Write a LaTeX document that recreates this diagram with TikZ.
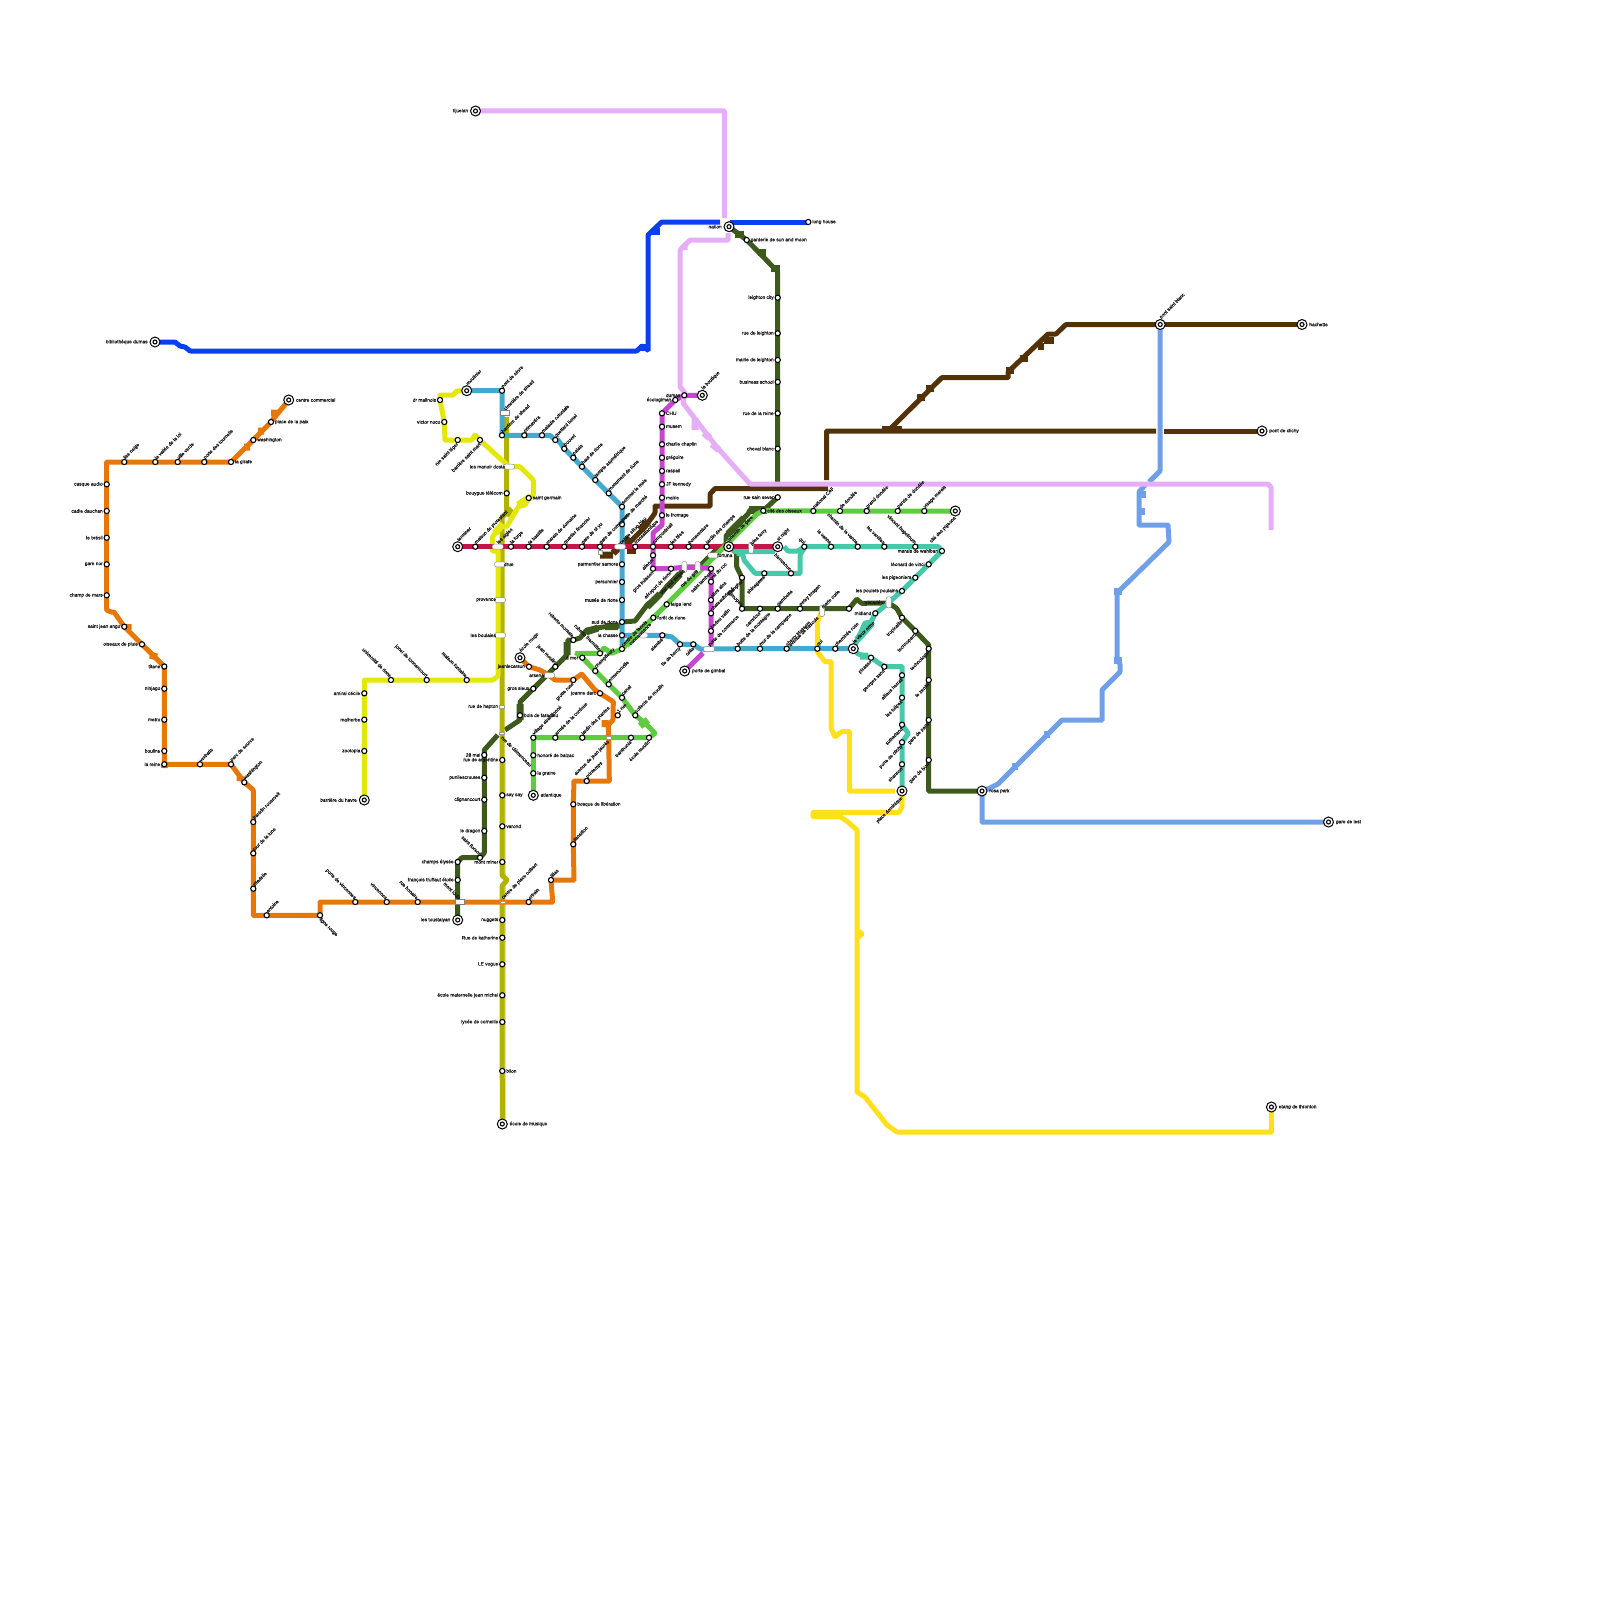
\documentclass[tikz,border=0pt]{standalone}
\usepackage{fontspec}
\setmainfont[RawFeature={embolden=0.5}]{Liberation Sans}
\pgfdeclarelayer{lines}
\pgfsetlayers{lines,main}
\definecolor{corange}{HTML}{E8770A}
\definecolor{clime}{HTML}{E3E80A}
\definecolor{colive}{HTML}{B2B300}
\definecolor{cpale}{HTML}{E2E28A}
\definecolor{cdark}{HTML}{3D5A1C}
\definecolor{ccyan}{HTML}{44A9CE}
\definecolor{cred}{HTML}{C2174A}
\definecolor{clgreen}{HTML}{5FCB3F}
\definecolor{cteal}{HTML}{45C9A9}
\definecolor{cmag}{HTML}{C646CF}
\definecolor{clilac}{HTML}{E6AEF7}
\definecolor{cblue}{HTML}{0A3FEF}
\definecolor{cperi}{HTML}{6F9FE8}
\definecolor{cbrown}{HTML}{53320A}
\definecolor{cyell}{HTML}{FFE01A}
\tikzset{
 mline/.style={line width=5pt,rounded corners=.7pt,line cap=butt},
 blob/.style={line width=7pt,line cap=butt},
 stnode/.style={circle,draw=black,fill=white,line width=1.1pt,minimum size=5.2pt,inner sep=0pt},
 term/.style={circle,draw=black,fill=white,line width=1pt,minimum size=10pt,inner sep=0pt,
   path picture={\draw[line width=1.1pt] (path picture bounding box.center) circle (2pt);}},
 caph/.style={rounded corners=2pt,draw=black!45,fill=white,line width=.5pt,minimum width=11pt,minimum height=5pt,inner sep=0pt},
 capv/.style={rounded corners=2pt,draw=black!45,fill=white,line width=.5pt,minimum width=5pt,minimum height=11pt,inner sep=0pt},
 rectbox/.style={draw=black!50,fill=white,line width=.5pt,minimum width=9pt,minimum height=5pt,inner sep=0pt},
 tinybox/.style={draw=black!40,fill=white,line width=.3pt,minimum width=5pt,minimum height=2.5pt,inner sep=0pt},
 lbase/.style={font=\fontsize{4.8}{5}\selectfont,text=black!90,inner sep=0pt},
 lbE/.style={lbase,anchor=west,xshift=3.8pt},
 lbW/.style={lbase,anchor=east,xshift=-3.8pt},
 lbNE/.style={lbase,rotate=45,anchor=west,xshift=2.4pt,yshift=2.4pt},
 lbSW/.style={lbase,rotate=45,anchor=east,xshift=-2.4pt,yshift=-2.4pt},
 lbNW/.style={lbase,rotate=-45,anchor=east,xshift=-2.4pt,yshift=2.4pt},
 lbSE/.style={lbase,rotate=-45,anchor=west,xshift=2.4pt,yshift=-2.4pt},
 lbEt/.style={lbase,anchor=west,xshift=7.2pt},
 lbWt/.style={lbase,anchor=east,xshift=-7.2pt},
 lbNEt/.style={lbase,rotate=45,anchor=west,xshift=4.5pt,yshift=4.5pt},
 lbSWt/.style={lbase,rotate=45,anchor=east,xshift=-4.5pt,yshift=-4.5pt},
}
\newcommand\stx[6]{\node[#4] (#1) at (#2,#3) {}; \node[lb#5] (#1t) at (#2,#3) {#6};}
\newcommand\stn[5]{\stx{#1}{#2}{#3}{stnode}{#4}{#5}}
\newcommand\stt[5]{\stx{#1}{#2}{#3}{term}{#4t}{#5}}
\begin{document}
\begin{tikzpicture}[x=1pt,y=-1pt]
\useasboundingbox (0,0) rectangle (1600,1600);
% orange
\stt{oa}{288.7}{400}{E}{centre commercial}
\stn{ob}{271}{422}{E}{place de la paix}
\stn{oc}{253.3}{440}{E}{washington}
\stn{od}{231}{462}{E}{la girafe}
\stn{oe}{204.3}{462}{NE}{porte des tournelle}
\stn{of}{177.7}{462}{NE}{ville verde}
\stn{og}{155.3}{462}{NE}{la vallée de la loi}
\stn{oh}{124.3}{462}{NE}{lise neige}
\stn{oi}{106.7}{484.3}{W}{casque audio}
\stn{oj}{106.7}{511}{W}{cadie dauchan}
\stn{ok}{106.7}{537.7}{W}{le brésil}
\stn{ol}{106.7}{564.3}{W}{gare nor}
\stn{om}{106.7}{595.3}{W}{champ de mars}
\stn{on}{124.3}{626.7}{W}{saint jean ango}
\stn{oo}{142}{644.3}{W}{oiseaux de pluie}
\stn{op}{164.3}{666.5}{W}{titane}
\stn{oq}{164.3}{688.7}{W}{ninjago}
\stn{or}{164.3}{719.7}{W}{metro}
\stn{os}{164.3}{751}{W}{bouline}
\stn{ot}{164.3}{764.3}{W}{la reine}
\stn{ou}{200}{764.3}{NE}{verbatis}
\stn{ov}{231}{764.3}{NE}{parc de source}
\stn{ow}{244.3}{782.3}{NE}{washington}
\stn{ox}{253.3}{822}{NE}{franklin roosevelt}
\stn{oy}{253.3}{853.3}{NE}{tour de la lune}
\stn{oz}{253.3}{888.7}{NE}{zitadelle}
\stn{oA}{266.7}{915.3}{NE}{antoine}
\stn{oB}{320}{915.3}{SE}{ligne rouge}
\stn{oC}{355.3}{902}{NW}{porte de vincennes}
\stn{oD}{386.7}{902}{NW}{vincennes}
\stn{oE}{417.7}{902}{NW}{rue bonaire}
\stx{xa}{460}{902}{rectbox}{NW}{mont louis}
\stx{xb}{502.3}{902}{tinybox}{NE}{centre de place colbert}
\stn{oF}{528.7}{902}{NE}{orbain}
\stn{oG}{551}{880}{NE}{lilias}
\stn{oH}{573.3}{844.3}{NE}{dansition}
\stn{oI}{573.3}{804.3}{E}{bosque de libération}
\stn{oJ}{586.7}{781}{NE}{printemps}
\stx{xc}{608.7}{737.7}{tinybox}{SW}{avenue de jean jaurès}
\stn{oK}{617.7}{715.3}{NE}{1 rue}
\stn{oL}{600}{693.3}{W}{joanne darc}
\stn{oM}{573.3}{680}{SW}{grotte rose}
\stx{xd}{549}{675.3}{caph}{W}{arsenal}
\stn{oN}{529}{666.7}{W}{jeanlecarsun}
\stt{oO}{520}{657.7}{NE}{école rouge}
% lime
\stt{la}{364.3}{800}{W}{barrière du havre}
\stn{lb}{364.3}{751}{W}{zootopia}
\stn{lc}{364.3}{719.7}{W}{malherbe}
\stn{ld}{364.3}{693.3}{W}{amiral cécile}
\stn{le}{391}{680}{NW}{université de rione}
\stn{lf}{426.7}{680}{NW}{jonel de tonnancourt}
\stn{lg}{466.7}{680}{NW}{maison fontaine}
\stx{xe}{500}{635.3}{caph}{W}{les boulaies}
\stx{xf}{500}{600}{caph}{W}{provence}
\stx{xg}{500}{564.3}{caph}{E}{drue}
\stx{xh}{497.7}{546.7}{caph}{NE}{les aigles}
\stn{lh}{528.7}{498}{E}{saint germain}
\stx{xi}{509}{466.7}{caph}{W}{les manoir dosta}
\stn{li}{480}{440}{SW}{barrière saint mart}
\stn{lj}{457.7}{440}{SW}{rue saint léger}
\stn{lk}{444.3}{422}{W}{victor noco}
\stn{ll}{440}{400}{W}{dr malinois}
\stt{lm}{466.7}{390.7}{NE}{moulinier}
% cyan
\stn{ca}{502}{390.7}{NE}{pont de sèvre}
\stx{xj}{504.3}{413}{rectbox}{NE}{cimetière de shead}
\stn{cb}{502}{435.3}{NE}{barrière de shead}
\stn{cc}{524.3}{435.3}{NE}{primavéra}
\stn{cd}{542}{435.3}{NE}{maladie coloniale}
\stn{ce}{555.3}{440}{NE}{quetlard lionel}
\stn{cf}{564.3}{448.7}{NE}{bouvet}
\stn{cg}{573.3}{457.7}{NE}{palais}
\stn{ch}{582}{466.7}{NE}{haut de rione}
\stn{ci}{595.3}{480}{NE}{temple asymétrique}
\stn{cj}{608.7}{493.3}{NE}{monument de rione}
\stn{ck}{622}{506.7}{NE}{sommet le mele}
\stn{cl}{622}{524.3}{NE}{porte de marché}
\stx{xk}{620}{546.7}{caph}{NE}{centre sillon bleu}
\stn{cm}{622}{564.3}{W}{parmentier samora}
\stn{cn}{622}{582}{W}{personnier}
\stn{co}{622}{600}{W}{musée de rione}
\stn{cp}{622}{622}{W}{sud de rione}
\stn{cq}{622}{635.3}{W}{la chasse}
\stn{cr}{622}{649}{NE}{centre de tennis}
\node[caph] (xl) at (642.3,635.3) {};
\stn{cs}{662.3}{635.3}{SW}{alambé}
\stn{ct}{680}{644.3}{SW}{île de bercy}
\stn{cu}{693.3}{644.3}{SW}{célia}
\stx{xm}{709}{649}{caph}{NE}{porte de commerce}
\stn{cv}{737.7}{648.7}{NE}{butte de la montagne}
\stn{cw}{760}{648.7}{NE}{mur de la campagne}
\stn{cx}{786.7}{648.7}{NE}{cherry blossom}
\stn{cy}{817.3}{648.7}{NE}{qui}
\stn{cz}{835.3}{648.7}{NE}{cheminée rose}
\stt{cA}{853.3}{648.7}{NE}{le vieux orme}
\node[lbase,rotate=45] (cnx) at (640,634) {connaissance};
% red
\stt{ra}{457.7}{546.7}{NE}{terminer}
\stn{rb}{475.3}{546.7}{NE}{maison de protestant}
\stn{rc}{511}{546.7}{NE}{la forge}
\stn{rd}{528.7}{546.7}{NE}{la bastille}
\stn{re}{546.7}{546.7}{NE}{marais de domaine}
\stn{rf}{564.3}{546.7}{NE}{quartier financier}
\stn{rg}{582}{546.7}{NE}{gare de st yu}
\stn{rh}{600}{546.7}{NE}{gare de commerce}
\node[draw=black!40,fill=white,line width=.4pt,minimum size=4pt,inner sep=0pt] (rbx) at (600,552) {};
\stn{ri}{635.3}{546.7}{NE}{transatlantique}
\stn{rj}{653}{546.7}{NE}{compostelait}
\stn{rk}{671}{546.7}{NE}{les fées}
\stn{rl}{688.7}{546.7}{NE}{bonaventure}
\stn{rm}{706.7}{546.7}{NE}{jardin des champs}
\stt{rn}{728.7}{546.7}{NE}{chemin de gare}
\stx{xn}{751}{548}{capv}{NE}{jules ferry}
\stt{ro}{777.7}{546.7}{NE}{st night}
% teal
\stn{ta}{804.3}{546.7}{NW}{qui}
\stn{tb}{831}{546.7}{NW}{la vanne}
\stn{tc}{857.7}{546.7}{NW}{chemin de la vanne}
\stn{td}{884.3}{546.7}{NW}{les vanilles}
\stn{te}{915.3}{546.7}{NW}{vincent hugolinum}
\stn{tf}{942}{551}{W}{marais de wahlban}
\stn{tg}{928.7}{564.3}{W}{léonard de vinci}
\stn{th}{915.3}{577.7}{W}{les pigeoniers}
\stn{ti}{902}{591}{W}{les poulets poulains}
\stx{xo}{888.7}{602.3}{capv}{W}{trocadéro}
\stn{tj}{875.3}{613.3}{W}{midland}
\stn{tk}{871}{657.7}{SW}{picasso}
\stn{tl}{884.3}{666.7}{SW}{georges sand}
\stn{tm}{902}{675.3}{SW}{alliaus herrali}
\stn{tn}{902}{697.7}{SW}{les tulipes}
\stn{to}{902}{724.7}{SW}{sutherland}
\stn{tp}{902}{742.3}{SW}{porte de clichy}
\stn{tq}{902}{764.3}{SW}{shannon}
\stt{tr}{902}{791}{SW}{place dominique}
\stn{ts}{764.3}{573.3}{SW}{shinagawa}
\stn{tt}{791}{573.3}{NW}{bienvenue}
% dark green
\stt{da}{729}{226.7}{W}{nation}
\stn{db}{746.7}{240}{E}{garderie de sun and moon}
\stn{dc}{777.7}{297.7}{W}{leighton city}
\stn{dd}{777.7}{333.3}{W}{rue de leighton}
\stn{de}{777.7}{360}{W}{mairie de leighton}
\stn{df}{777.7}{382}{W}{business school}
\stn{dg}{777.7}{413.3}{W}{rue de la reine}
\stn{dh}{777.7}{448.7}{W}{cheval blanc}
\stn{di}{777.7}{497.3}{W}{rue sain sever}
\stx{xp}{713.3}{555.3}{caph}{E}{fortuna}
\stn{dj}{742}{577.7}{SW}{shanghai}
\stn{dk}{742}{608.7}{NW}{limoges}
\stn{dl}{760}{608.7}{SW}{carrefour}
\stn{dm}{777.7}{608.7}{NE}{gambetta}
\stn{dn}{800}{608.7}{NE}{petey bragan}
\stx{xq}{822}{611}{capv}{NE}{marie curie}
\node[lbase,rotate=45,anchor=east] (xqb) at (818,617) {avenue de bascule};
\node[stnode] (do) at (849,608.7) {};
\stn{dp}{902}{617.7}{SW}{tropicaille}
\stn{dq}{915.3}{631}{SW}{technoparc}
\stn{dr}{928.7}{648.7}{SW}{technologie}
\stn{ds}{928.7}{680}{SW}{le zenith}
\stn{dt}{928.7}{720}{SW}{gare de paris}
\stn{du}{928.7}{760}{SW}{gare de lyon}
\stt{dv}{982}{791}{E}{rosa park}
\stn{dw}{573.3}{640}{NW}{roberto montale}
\stn{dx}{555.3}{666.7}{NW}{jean moulin}
\stn{dy}{533.3}{688.7}{W}{gros sieux}
\stn{dz}{520}{715.3}{E}{bois de faradieu}
\stn{dA}{484.3}{755}{W}{28 mai}
\stn{dB}{484.3}{777.7}{W}{punilescroutes}
\stn{dC}{484.3}{799.7}{W}{clignancourt}
\stn{dD}{484.3}{831}{W}{le dragon}
\stn{dE}{480}{857.7}{NW}{saint florent}
\stn{dF}{457.7}{862}{W}{champs élysée}
\stn{dG}{457.7}{880}{W}{françois truffaut étoile}
\stt{dH}{457.7}{920}{W}{les toustalyan}
% olive
\stn{va}{506.7}{493.3}{W}{bouygue télécom}
\stx{vb}{502}{706.7}{tinybox}{W}{rue de hapton}
\stx{vc}{502}{733.3}{tinybox}{SE}{rue de clémenceau}
\stn{vd}{502.3}{760}{W}{rue de argentine}
\stn{ve}{502.3}{795.3}{E}{say say}
\stn{vf}{502.3}{826.3}{E}{varond}
\stn{vg}{502.3}{862}{W}{mont miner}
\stn{vh}{502.3}{920}{W}{nuggets}
\stn{vi}{502.3}{937.7}{W}{Rue de katherine}
\stn{vj}{502.3}{964.3}{W}{LE vogue}
\stn{vk}{502.3}{995.3}{W}{école maternelle jean michel}
\stn{vl}{502.3}{1022}{W}{lycée de corneille}
\stn{vm}{502.3}{1071}{E}{biion}
\stt{vn}{502.3}{1124}{E}{école de musique}
% light green
\stt{ga}{533.3}{795.3}{E}{atlantique}
\stn{gb}{533.3}{773.3}{E}{la graine}
\stn{gc}{533.3}{755.3}{E}{honoré de balzac}
\stn{gd}{533.3}{737.7}{NE}{village abandonné}
\stn{ge}{555.3}{737.7}{NE}{armée de la cordoue}
\stn{gf}{582.3}{737.7}{NE}{jardin des plantes}
\stn{gg}{631}{737.7}{SW}{tranthonié}
\stn{gh}{649}{737.7}{SW}{école moulin}
\stn{gi}{635.3}{715.3}{NE}{collecte de moulin}
\stn{gj}{622}{697.7}{NE}{canal}
\stn{gk}{608.7}{684.3}{NE}{ermenonville}
\stn{gl}{595.3}{671}{NE}{champfleury}
\stn{gm}{582.3}{657.7}{W}{à mer}
\stn{gn}{600}{653.3}{NW}{roberto lhermitte}
\stn{go}{653.3}{617.7}{E}{forêt de rione}
\stn{gp}{666.7}{604.3}{E}{taiga land}
\stn{gq}{763.3}{510.7}{E}{cité des oiseaux}
\stn{gr}{813.3}{511}{NE}{national CAF}
\stn{gs}{840}{511}{NE}{de dondée}
\stn{gt}{866.7}{511}{NE}{grand dondée}
\stn{gu}{897.7}{511}{NE}{parvis de dondée}
\stn{gv}{924.3}{511}{NE}{visage marais}
\stt{gw}{955.3}{511}{SW}{cité des pigeons}
% magenta
\stt{ma}{702.3}{395.3}{NE}{la boutique}
\stn{mb}{684.3}{395.3}{W}{dumas}
\stn{mc}{675.3}{400}{W}{écologiman}
\stn{md}{662}{413.3}{E}{CHU}
\stn{me}{662}{426.7}{E}{musem}
\stn{mf}{662}{444.3}{E}{charlie chaplin}
\stn{mg}{662}{457.7}{E}{grégoire}
\stn{mh}{662}{471}{E}{raspail}
\stn{mi}{662}{484.3}{E}{JF kennedy}
\stn{mj}{662}{497.7}{E}{mairie}
\stn{mk}{662}{515.3}{E}{le fromage}
\stn{ml}{653}{555.3}{SW}{alienor}
\stn{mm}{653}{568.7}{SW}{gros buisson}
\stn{mn}{671}{568.7}{SW}{aéroport de rione}
\stx{xr}{684.3}{567}{capv}{SW}{star and stripes}
\stx{xs}{697.7}{567}{capv}{SW}{rue du gris}
\stn{mo}{711}{568.7}{SW}{saint lambert}
\stn{mp}{711}{581.7}{NE}{val du roc}
\stn{mq}{711}{600}{NE}{altos alos}
\stn{mr}{711}{613.3}{NE}{chateaubriand}
\stn{ms}{711}{631}{NE}{bedeu vallin}
\stt{mt}{684.7}{671}{E}{porte de gimbal}
% other termini
\stt{ba}{155}{342}{W}{bibliothèque dumas}
\stn{bb}{808.3}{222}{E}{long house}
\stt{ya}{1271.4}{1107}{E}{etang de thronton}
\stt{pa}{1160.2}{324.5}{NE}{pont saint blanc}
\stt{pb}{1328.5}{822}{E}{gare de lest}
\stt{na}{1302}{324.5}{E}{hachette}
\stt{nb}{1262}{431}{E}{pont de clichy}
\stt{ia}{475.5}{111}{W}{tijuelan}
\begin{pgfonlayer}{lines}
% periwinkle
\draw[mline,cperi] (pa.center) -- (1160,471) -- (1149,482) (1146,484) -- (1139,492) -- (1139,525) -- (1168,525) -- (1169,542) -- (1117,593) -- (1117,660) -- (1120,664) -- (1120,672) -- (1102,690) -- (1102,720) -- (1062,720) -- (998,784) -- (990,788) -- (dv.center);
\draw[mline,cperi] (dv.center) -- (982,822) -- (pb.center);
\draw[blob,cperi] (1044,734) -- (1050,734) (1012,766) -- (1018,766) (1114,591) -- (1122,591) (1137,494) -- (1146,494) (1139,511) -- (1145,511) (1114,660) -- (1122,660);
% brown
\draw[mline,cbrown] (nb.center) -- (1164,431);
\draw[mline,cbrown] (1156,431) -- (826.7,431) -- (826.7,480);
\draw[mline,cbrown] (888,431) -- (942,377.5) -- (1008,377.5) -- (1008,372) -- (1048,334) -- (1056,334) -- (1066,324.5) -- (pa.center);
\draw[mline,cbrown] (pa.center) -- (na.center);
\draw[blob,cbrown] (882,429.5) -- (902,429.5) (917,397) -- (925,397) (926,388) -- (934,388) (1006,370) -- (1014,370) (1020,358) -- (1028,358) (1044,340) -- (1054,340) (1038,346) -- (1044,346);
\draw[mline,cbrown] (828,488.5) -- (715,488.5) -- (710,494) -- (710,506) -- (655,506) -- (655,513) -- (645,527) -- (636,536) -- (628,544);
\draw[blob,cbrown] (600,555) -- (613,555) (613,553) -- (630,538) (640,530) -- (648,522);
\draw[mline,cbrown] (627,551.5) -- (636,551.5);
% dark green
\draw[mline,cdark] (da.center) -- (db.center) -- (777.7,271.7) -- (dc.center) -- (dd.center) -- (de.center) -- (df.center) -- (dg.center) -- (dh.center) -- (777.7,482);
\draw[blob,cdark] (735,234) -- (744,234) (758,252) -- (766,252) (771,268) -- (780,268);
\draw[mline,cdark] (di.center) -- (765,509) -- (750,510) -- (748,514) -- (726,536) -- (726,545) -- (718,548) -- (703,563) -- (697,567) -- (684,567) -- (680,574) -- (668,585) -- (660,595) -- (647,605) -- (635,621) -- (cp.center);
\draw[line width=8pt,cdark] (767,510) -- (749,510);
\draw[blob,cdark] (728,534) -- (744,518) (680,574) -- (668,587) (660,594) -- (647,607) (720,548) -- (712,556);
\draw[mline,cdark] (cp.center) -- (620,626) -- (603,627) -- (586.7,630) -- (580,638) -- (dw.center) -- (568,640) -- (567,655) -- (dx.center) -- (543,679) -- (dy.center) -- (520,702) -- (dz.center) -- (520,720) -- (505,730);
\draw[blob,cdark] (567,642) -- (567,655) (605,626.5) -- (618,626.5) (586,632) -- (598,628) (520,704) -- (520,720);
\draw[mline,cdark] (497.7,735) -- (484.3,750) -- (dA.center) -- (dB.center) -- (dC.center) -- (dD.center) -- (484.3,853) -- (dE.center) -- (461.7,857.7) -- (dF.center) -- (dG.center) -- (dH.center);
\draw[mline,cdark] (rn.center) -- (736.7,553) -- (736.7,567) -- (dj.center) -- (dk.center) -- (dl.center) -- (dm.center) -- (dn.center) -- (do.center) -- (856.7,599.3) -- (861.7,603.3) -- (888.7,603) -- (896.7,608.3) -- (dp.center) -- (dq.center) -- (928.7,645) -- (dr.center) -- (ds.center) -- (dt.center) -- (du.center) -- (928.7,791) -- (dv.center);
% olive
\draw[line width=1.4pt,cpale] (504.8,760) -- (504.8,1120);
\draw[mline,colive] (506.7,417) -- (va.center) -- (506.7,513) -- (502,517) -- (502,875) -- (507,880) -- (502,886) -- (vn.center);
\draw[blob,colive] (506,515) -- (512,509);
% lime
\draw[mline,clime] (la.center) -- (lb.center) -- (lc.center) -- (ld.center) -- (364.3,680) -- (le.center) -- (lf.center) -- (lg.center) -- (493,680) -- (498,676) -- (498,551) -- (492.7,551) -- (492.7,536.7) -- (500,526.7) -- (506.7,526.7) -- (518.3,506.7) -- (525,505) -- (lh.center) -- (533.3,495) -- (533.3,480) -- (520,466.7) -- (xi.center) -- (li.center) -- (475,435) -- (471.7,440) -- (lj.center) -- (445,440) -- (lk.center) -- (ll.center) -- (440,395) -- (453,395) -- (457,391) -- (lm.center);
\draw[blob,clime] (495,533) -- (503,524) (518,505) -- (530,497);
% cyan
\draw[mline,ccyan] (lm.center) -- (ca.center) -- (cb.center) -- (cc.center) -- (cd.center) -- (550,435.3) -- (ce.center) -- (558,440) -- (cf.center) -- (cg.center) -- (ch.center) -- (ci.center) -- (cj.center) -- (ck.center) -- (cl.center) -- (cm.center) -- (cn.center) -- (co.center) -- (cp.center) -- (cq.center) -- (cr.center);
\draw[mline,ccyan] (cq.center) -- (cs.center) -- (672,637) -- (ct.center) -- (cu.center) -- (700,649) -- (xm.center) -- (cv.center) -- (cw.center) -- (cx.center) -- (cy.center) -- (cz.center) -- (cA.center);
% teal
\draw[mline,cteal] (rn.center) -- (735,551.5) -- (775,551.5) (784,546.7) -- (788,551) -- (798,551) -- (ta.center) -- (tb.center) -- (tc.center) -- (td.center) -- (te.center) -- (938.3,546.7) -- (tf.center) -- (tg.center) -- (th.center) -- (ti.center) -- (xo.center) -- (880,610) -- (tj.center) -- (871,622) -- (865,623) -- (cA.center) -- (858,654) -- (tk.center) -- (tl.center) -- (902,666.7) -- (tm.center) -- (tn.center) -- (to.center) -- (908.3,733.3) -- (tp.center) -- (tq.center) -- (tr.center);
\draw[blob,cteal] (857,640) -- (872,623) (860,656) -- (868,656);
\draw[mline,cteal] (737,553) -- (743,555) -- (744,560) -- (755,573.3) -- (ts.center) -- (tt.center) -- (800,573.3) -- (800,555) -- (804.3,548);
% red
\draw[mline,cred] (ra.center) -- (rb.center) -- (rc.center) -- (rd.center) -- (re.center) -- (rf.center) -- (rg.center) -- (rh.center) -- (ri.center) -- (rj.center) -- (rk.center) -- (rl.center) -- (rm.center) -- (rn.center) -- (ro.center);
% light green
\draw[mline,clgreen] (ga.center) -- (gb.center) -- (gc.center) -- (gd.center) -- (ge.center) -- (gf.center) -- (xc.center) -- (gg.center) -- (gh.center) -- (655,733.3) -- (645,723) -- (gi.center) -- (gj.center) -- (gk.center) -- (gl.center) -- (gm.center) -- (576.7,653.3) -- (gn.center) -- (604,648) -- (611.7,653.3) -- (cr.center) -- (go.center) -- (gp.center) -- (757,514) -- (gq.center);
\draw[blob,clgreen] (640,726) -- (648,720) (626,645) -- (640,630);
\draw[mline,clgreen] (gq.center) -- (gr.center) -- (gs.center) -- (gt.center) -- (gu.center) -- (gv.center) -- (gw.center);
% orange
\draw[mline,corange] (oa.center) -- (ob.center) -- (oc.center) -- (od.center) -- (oe.center) -- (of.center) -- (og.center) -- (oh.center) -- (106.7,462) -- (oi.center) -- (oj.center) -- (ok.center) -- (ol.center) -- (om.center) -- (106.7,610) -- (111,612) -- (114,612) -- (on.center) -- (oo.center) -- (op.center) -- (oq.center) -- (or.center) -- (os.center) -- (ot.center) -- (ou.center) -- (ov.center) -- (ow.center) -- (253.3,790) -- (ox.center) -- (oy.center) -- (oz.center) -- (253.3,915.3) -- (oA.center) -- (oB.center) -- (320,902) -- (oC.center) -- (oD.center) -- (oE.center) -- (xa.center) -- (xb.center) -- (oF.center) -- (552.7,902) -- (oG.center) -- (574,880) -- (oH.center) -- (oI.center) -- (574,781) -- (oJ.center) -- (609.3,781) -- (xc.center) -- (608.3,725) -- (613,720) -- (613.3,701.7) -- (oL.center) -- (595,690) -- (581.7,674) -- (oM.center) -- (555,680) -- (xd.center) -- (540,670) -- (oN.center) -- (oO.center);
\draw[blob,corange] (271,413) -- (278,413) (258,431) -- (264,431) (244,447) -- (250,447) (128,624) -- (128,630) (150,655) -- (157,657) (240,776) -- (240,781) (164.3,764) -- (164.3,768) (605,727) -- (605,720);
% magenta
\draw[mline,cmag] (ma.center) -- (mb.center) -- (mc.center) -- (md.center) -- (me.center) -- (mf.center) -- (mg.center) -- (mh.center) -- (mi.center) -- (mj.center) -- (mk.center) -- (662,525) -- (653,533) -- (rj.center) -- (ml.center) -- (mm.center) -- (mn.center) -- (xr.center) -- (xs.center) -- (mo.center) -- (mp.center) -- (mq.center) -- (mr.center) -- (ms.center) -- (711,646);
\draw[mline,cmag] (mt.center) -- (703,653);
% lilac
\draw[mline,clilac] (ia.center) -- (724.3,111) -- (724.3,218);
\draw[mline,clilac] (728,233) -- (728,240) -- (690,240) -- (680,250) -- (680,386.7) -- (685,393) -- (683,403) -- (716.7,447) -- (750,484) -- (1268,484) -- (1271,487) -- (1271,530);
\draw[blob,clilac] (695,418) -- (695,430) (704,433) -- (710,438) (712,444) -- (719,450) (684,246) -- (684,250);
% blue
\draw[mline,cblue] (ba.center) -- (175,342) -- (180,346) -- (185,347) -- (190,351) -- (636.7,351) -- (642,346) -- (648,350) -- (648,235) -- (661.7,222) -- (720,222);
\draw[mline,cblue] (730,222) -- (bb.center);
\draw[blob,cblue] (640,347) -- (648,347) (652,231) -- (660,231);
% yellow
\draw[mline,cyell] (xq.center) -- (817.3,621.7) -- (cy.center) -- (817.3,652) -- (825,661.7) -- (831,661.7) -- (831,728) -- (835,736.7) -- (841.7,731.7) -- (849.3,731.7) -- (849.3,791) -- (895,791);
\draw[mline,cyell] (tr.center) -- (902,807) -- (899,812.3) -- (813,812.3) -- (813,816.5) -- (840,816.5) -- (848,822) -- (857,830) -- (857,1092) -- (865,1097) -- (887,1125) -- (897,1132) -- (1271.4,1132) -- (ya.center);
\draw[mline,cyell] (857,930) -- (862,934) -- (857,938);
\end{pgfonlayer}
\end{tikzpicture}
\end{document}
